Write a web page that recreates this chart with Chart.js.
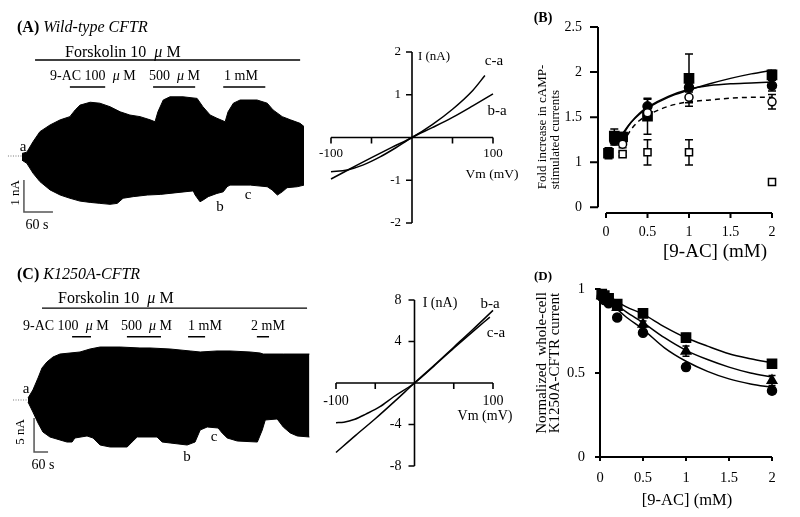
<!DOCTYPE html>
<html>
<head>
<meta charset="utf-8">
<script src="https://cdn.jsdelivr.net/npm/chart.js@4.4.1/dist/chart.umd.min.js"></script>
<style>
  html, body { margin: 0; padding: 0; background: #fff; }
  #fig { position: relative; width: 800px; height: 517px; overflow: hidden;
         font-family: "Liberation Serif", "Times New Roman", serif; color: #000; }
  #fig canvas { position: absolute; left: 0; top: 0; }
  .t { position: absolute; white-space: pre; line-height: 1; transform: translate(-50%, -50%); }
  .l { position: absolute; white-space: pre; line-height: 1; transform: translateY(-50%); }
  .rot { transform: translate(-50%, -50%) rotate(-90deg); }
</style>
</head>
<body>
<div id="fig">
  <canvas id="traceA" width="800" height="517"></canvas>
  <canvas id="ivA" width="800" height="517"></canvas>
  <canvas id="doseB" width="800" height="517"></canvas>
  <canvas id="traceC" width="800" height="517"></canvas>
  <canvas id="ivC" width="800" height="517"></canvas>
  <canvas id="doseD" width="800" height="517"></canvas>

  <!-- panel A -->
  <div class="l" style="left:17px;top:27px;font-size:16px"><b>(A)</b> <i>Wild-type CFTR</i></div>
  <div class="l" style="left:65px;top:52px;font-size:16px">Forskolin 10  <i>μ</i> M</div>
  <div class="l" style="left:50px;top:76px;font-size:14px">9-AC 100  <i>μ</i> M</div>
  <div class="l" style="left:149px;top:76px;font-size:14px">500  <i>μ</i> M</div>
  <div class="l" style="left:224px;top:76px;font-size:14px">1 mM</div>
  <div class="t" style="left:23px;top:146px;font-size:15px">a</div>
  <div class="t" style="left:220px;top:206px;font-size:15px">b</div>
  <div class="t" style="left:248px;top:194px;font-size:15px">c</div>
  <div class="t rot" style="left:14px;top:193px;font-size:13px">1 nA</div>
  <div class="t" style="left:37px;top:225px;font-size:14px">60 s</div>
  <div class="t" style="left:434px;top:55px;font-size:13px">I (nA)</div>
  <div class="t" style="left:494px;top:60px;font-size:15px">c-a</div>
  <div class="t" style="left:497px;top:110px;font-size:15px">b-a</div>
  <div class="t" style="left:492px;top:174px;font-size:13.5px">Vm (mV)</div>

  <!-- panel B -->
  <div class="t" style="left:543px;top:18px;font-size:14px;font-weight:bold">(B)</div>
  <div class="t" style="left:715px;top:250px;font-size:19px">[9-AC] (mM)</div>
  <div class="t rot" style="left:548px;top:127px;font-size:13px;line-height:13px;text-align:left">Fold increase in cAMP-<br>stimulated currents</div>

  <!-- panel C -->
  <div class="l" style="left:17px;top:274px;font-size:16px"><b>(C)</b> <i>K1250A-CFTR</i></div>
  <div class="l" style="left:58px;top:298px;font-size:16px">Forskolin 10  <i>μ</i> M</div>
  <div class="l" style="left:23px;top:326px;font-size:14px">9-AC 100  <i>μ</i> M</div>
  <div class="l" style="left:121px;top:326px;font-size:14px">500  <i>μ</i> M</div>
  <div class="l" style="left:188px;top:326px;font-size:14px">1 mM</div>
  <div class="l" style="left:251px;top:326px;font-size:14px">2 mM</div>
  <div class="t" style="left:26px;top:388px;font-size:15px">a</div>
  <div class="t" style="left:187px;top:456px;font-size:15px">b</div>
  <div class="t" style="left:214px;top:436px;font-size:15px">c</div>
  <div class="t rot" style="left:19px;top:432px;font-size:13px">5 nA</div>
  <div class="t" style="left:43px;top:465px;font-size:14px">60 s</div>
  <div class="t" style="left:440px;top:303px;font-size:14px">I (nA)</div>
  <div class="t" style="left:490px;top:303px;font-size:15px">b-a</div>
  <div class="t" style="left:496px;top:332px;font-size:15px">c-a</div>
  <div class="t" style="left:485px;top:416px;font-size:14px">Vm (mV)</div>

  <!-- panel D -->
  <div class="t" style="left:543px;top:275px;font-size:13px;font-weight:bold">(D)</div>
  <div class="t" style="left:687px;top:500px;font-size:16.5px">[9-AC] (mM)</div>
  <div class="t rot" style="left:548px;top:363px;font-size:15px;line-height:13px;text-align:center">Normalized  whole-cell<br>K1250A-CFTR current</div>
</div>

<script>
// ---- (A) wild-type CFTR whole-cell trace: envelope of the current (time s, current nA)
const wtUpperT = [0, 10, 23, 37, 58, 79, 99, 110, 120, 141, 161, 182, 203, 223, 244, 265, 275, 281, 292, 306, 333, 362, 374, 389, 403, 420, 426, 437, 451, 486, 507, 519, 538, 555, 575, 583];
const wtUpper  = [0.08, 0.12, 0.45, 0.76, 0.97, 1.13, 1.23, 1.44, 1.59, 1.68, 1.65, 1.54, 1.38, 1.28, 1.23, 1.13, 1.07, 1.38, 1.75, 1.85, 1.85, 1.80, 1.54, 1.28, 1.18, 1.07, 1.38, 1.65, 1.75, 1.75, 1.65, 1.44, 1.23, 1.13, 1.02, 0.92];
const wtLowerT = [0, 10, 23, 37, 58, 79, 99, 120, 141, 161, 182, 197, 209, 230, 259, 286, 354, 358, 368, 374, 385, 403, 416, 424, 430, 472, 507, 517, 528, 538, 548, 569, 583];
const wtLower  = [-0.13, -0.23, -0.54, -0.80, -1.06, -1.22, -1.32, -1.41, -1.45, -1.48, -1.51, -1.48, -1.32, -1.27, -1.22, -1.20, -1.09, -1.22, -1.43, -1.38, -1.27, -1.17, -1.12, -0.96, -0.91, -0.91, -0.96, -1.06, -1.22, -1.12, -0.99, -0.96, -0.91];
const wtForskolin = [27, 575];
const wtDrugStart = [99, 271, 416];
const wtDrugEnd   = [172, 358, 503];

// ---- (A) I-V relations (mV, nA)
const wtCaV = [-100, -75, -50, -25, 0, 25, 50, 75, 90];
const wtCaI = [-0.97, -0.72, -0.47, -0.23, 0, 0.3, 0.66, 1.1, 1.45];
const wtBaV = [-100, -80, -60, -40, -20, 0, 25, 50, 75, 100];
const wtBaI = [-0.8, -0.76, -0.64, -0.46, -0.24, 0, 0.23, 0.47, 0.74, 1.02];

// ---- (B) fold increase vs [9-AC] (mM)
const bSqX = [0.03, 0.1, 0.2, 0.5, 1, 2];
const bSqY = [1.1, 1.29, 1.28, 1.51, 1.93, 1.97];
const bSqE = [0.06, 0.08, 0.05, 0.2, 0.27, 0.05];
const bCiX = [0.1, 0.2, 0.5, 1, 2];
const bCiY = [1.24, 1.26, 1.62, 1.83, 1.85];
const bCiE = [0.05, 0.05, 0.08, 0.05, 0.06];
const bOcX = [0.2, 0.5, 1, 2];
const bOcY = [1.2, 1.55, 1.72, 1.67];
const bOcE = [0.04, 0.05, 0.1, 0.08];
const bOsX = [0.2, 0.5, 1, 2];
const bOsY = [1.09, 1.11, 1.11, 0.78];
const bOsE = [0.02, 0.14, 0.14, 0.01];
const bFitX = [0.2, 0.3, 0.4, 0.5, 0.75, 1, 1.25, 1.5, 1.75, 2];
const bFit1 = [1.32, 1.44, 1.53, 1.60, 1.72, 1.80, 1.87, 1.93, 1.98, 2.02];
const bFit2 = [1.30, 1.44, 1.54, 1.61, 1.73, 1.81, 1.85, 1.87, 1.88, 1.89];
const bFit3 = [1.21, 1.36, 1.46, 1.52, 1.62, 1.67, 1.69, 1.71, 1.72, 1.72];
const bYTicks = [0.5, 1, 1.5, 2, 2.5];
const bYLabels = ['0', '1', '1.5', '2', '2.5'];
const doseTicks = [0, 0.5, 1, 1.5, 2];
const doseLabels = ['0', '0.5', '1', '1.5', '2'];

// ---- (C) K1250A-CFTR trace envelope (time s, current nA)
const kaUpperT = [0, 21, 43, 60, 81, 107, 137, 180, 223, 266, 309, 395, 480, 523, 609, 695, 738, 810, 866, 952, 995, 1008, 1094, 1206];
const kaUpper  = [0.29, 1.47, 3.24, 4.71, 5.59, 6.32, 6.76, 6.91, 7.06, 7.5, 7.79, 7.79, 7.65, 7.65, 7.5, 7.21, 7.06, 7.21, 7.21, 7.06, 6.91, 6.76, 6.76, 6.76];
const kaLowerT = [0, 21, 43, 64, 94, 137, 167, 189, 201, 253, 279, 309, 352, 425, 446, 468, 553, 575, 609, 682, 716, 738, 768, 815, 832, 854, 897, 983, 1004, 1017, 1068, 1094, 1124, 1154, 1206];
const kaLower  = [-0.29, -1.76, -3.38, -4.71, -5.44, -5.88, -6.18, -6.18, -5.59, -5.29, -5.59, -6.62, -6.91, -6.91, -6.18, -5.44, -5.44, -6.18, -6.32, -6.62, -6.18, -4.41, -3.97, -4.12, -4.85, -5.59, -6.03, -6.18, -4.41, -2.94, -2.79, -3.97, -4.85, -5.29, -5.44];
const kaForskolin = [60, 1196];
const kaDrugStart = [189, 424, 686, 981];
const kaDrugEnd   = [270, 570, 759, 1033];

// ---- (C) I-V relations
const kaBaV = [-100, -75, -50, -25, 0, 25, 50, 75, 100];
const kaBaI = [-6.7, -5.05, -3.45, -1.75, 0, 1.7, 3.45, 5.2, 7.0];
const kaCaV = [-100, -90, -76, -62, -44, -27, 0, 25, 50, 75, 96];
const kaCaI = [-3.82, -3.78, -3.5, -3.0, -2.28, -1.35, 0, 1.65, 3.35, 5.0, 6.35];

// ---- (D) normalized K1250A current vs [9-AC]
const dX = [0.02, 0.05, 0.1, 0.2, 0.5, 1, 2];
const dSq = [0.97, 0.96, 0.945, 0.91, 0.855, 0.71, 0.555];
const dSqE = [0.01, 0.01, 0.015, 0.015, 0.02, 0.025, 0.015];
const dTr = [0.96, 0.95, 0.93, 0.89, 0.79, 0.63, 0.455];
const dTrE = [0.01, 0.01, 0.015, 0.015, 0.02, 0.03, 0.03];
const dCi = [0.955, 0.935, 0.915, 0.83, 0.74, 0.535, 0.395];
const dCiE = [0.01, 0.01, 0.015, 0.015, 0.015, 0.02, 0.02];
const dFitX = [0, 0.1, 0.2, 0.3, 0.5, 0.75, 1, 1.25, 1.5, 1.75, 2];
const dFit1 = [1.0, 0.96, 0.925, 0.895, 0.85, 0.775, 0.71, 0.66, 0.615, 0.585, 0.56];
const dFit2 = [1.0, 0.95, 0.905, 0.865, 0.80, 0.71, 0.635, 0.58, 0.535, 0.50, 0.475];
const dFit3 = [1.0, 0.935, 0.88, 0.835, 0.76, 0.65, 0.57, 0.51, 0.465, 0.435, 0.415];

const W = 800, H = 517;
const pts = (xs, ys) => xs.map((x, i) => ({ x, y: ys[i] }));

// drug application bars -> one line dataset with gaps
function bars(starts, ends, level) {
    const out = [];
    starts.forEach((s, i) => { out.push({ x: s, y: level }, { x: ends[i], y: level }, { x: ends[i], y: null }); });
    return out;
}

// axes drawn through the chart's own scales, crossing where the figure has them
const drawAxes = {
    id: 'drawAxes',
    afterDatasetsDraw(chart, args, opts) {
        if (!opts.axes) return;
        const { ctx, scales: { x, y } } = chart;
        ctx.save();
        ctx.strokeStyle = '#000';
        ctx.fillStyle = '#000';
        ctx.lineWidth = opts.lineWidth || 1.8;
        ctx.font = opts.font;
        ctx.textBaseline = 'middle';
        opts.axes.forEach(ax => {
            const horiz = ax.axis === 'x';
            const sc = horiz ? x : y;
            const at = (horiz ? y : x).getPixelForValue(ax.at);
            const p0 = sc.getPixelForValue(ax.from), p1 = sc.getPixelForValue(ax.to);
            ctx.beginPath();
            if (horiz) { ctx.moveTo(p0, at); ctx.lineTo(p1, at); } else { ctx.moveTo(at, p0); ctx.lineTo(at, p1); }
            ax.ticks.forEach(v => {
                const p = sc.getPixelForValue(v);
                if (horiz) { ctx.moveTo(p, at); ctx.lineTo(p, at + ax.tickLen); }
                else { ctx.moveTo(at, p); ctx.lineTo(at - ax.tickLen, p); }
            });
            ctx.stroke();
            ctx.textAlign = horiz ? 'center' : 'right';
            ax.ticks.forEach((v, i) => {
                const label = ax.labels[i];
                if (!label) return;
                const p = sc.getPixelForValue(v);
                if (horiz) ctx.fillText(label, p, at + ax.labelGap);
                else ctx.fillText(label, at - ax.labelGap, p);
            });
        });
        ctx.restore();
    }
};

// vertical error bars for datasets that carry an `errors` array
const errorBars = {
    id: 'errorBars',
    beforeDatasetsDraw(chart) {
        const ctx = chart.ctx, ys = chart.scales.y;
        chart.data.datasets.forEach((ds, i) => {
            if (!ds.errors) return;
            const meta = chart.getDatasetMeta(i);
            const cap = ds.capWidth || 4;
            ctx.save();
            ctx.strokeStyle = '#000';
            ctx.lineWidth = 1.5;
            ctx.beginPath();
            meta.data.forEach((pt, j) => {
                const e = ds.errors[j];
                if (!e) return;
                const top = ys.getPixelForValue(ds.data[j].y + e);
                const bot = ys.getPixelForValue(ds.data[j].y - e);
                ctx.moveTo(pt.x, top); ctx.lineTo(pt.x, bot);
                ctx.moveTo(pt.x - cap, top); ctx.lineTo(pt.x + cap, top);
                ctx.moveTo(pt.x - cap, bot); ctx.lineTo(pt.x + cap, bot);
            });
            ctx.stroke();
            ctx.restore();
        });
    }
};

function makeChart(id, area, xRange, yRange, datasets, axes) {
    return new Chart(document.getElementById(id), {
        type: 'line',
        data: { datasets },
        options: {
            responsive: false,
            animation: false,
            devicePixelRatio: 1,
            events: [],
            layout: { padding: { left: area[0], top: area[1], right: W - area[2], bottom: H - area[3] } },
            scales: {
                x: { type: 'linear', min: xRange[0], max: xRange[1], display: false },
                y: { type: 'linear', min: yRange[0], max: yRange[1], display: false }
            },
            elements: { point: { radius: 0 }, line: { borderWidth: 1.5, borderColor: '#000' } },
            plugins: { legend: { display: false }, tooltip: { enabled: false }, drawAxes: axes || {} }
        },
        plugins: [drawAxes, errorBars]
    });
}

const line = (data, extra) => Object.assign({ data, borderColor: '#000', borderWidth: 1.5, pointRadius: 0, fill: false, clip: false }, extra || {});
const smooth = { cubicInterpolationMode: 'monotone' };
const marker = (data, style, r, filled, errors, cap) => ({
    data, showLine: false, pointStyle: style, pointRadius: r, borderWidth: 1.5,
    pointBorderColor: '#000', pointBackgroundColor: filled ? '#000' : '#fff',
    errors, capWidth: cap, clip: false
});

// ---------- trace helpers
function traceSets(upT, up, loT, lo, forsk, fLevel, dS, dE, dLevel, baseFrom, bar) {
    return [
        line(pts(upT, up), { fill: 'origin', backgroundColor: '#000', borderWidth: 1 }),
        line(pts(loT, lo), { fill: 'origin', backgroundColor: '#000', borderWidth: 1 }),
        line(pts(forsk, [fLevel, fLevel]), { borderWidth: 1.3 }),
        line(bars(dS, dE, dLevel), { borderWidth: 1.5 }),
        line([{ x: baseFrom, y: 0 }, { x: 0, y: 0 }], { borderColor: '#777', borderWidth: 1, borderDash: [1, 1.5] }),
        line([{ x: bar.t, y: bar.top }, { x: bar.t, y: bar.top - bar.nA }, { x: bar.t + 60, y: bar.top - bar.nA }],
             { borderColor: '#555', borderWidth: 1.5 })
    ];
}

// (A) trace
makeChart('traceA', [7, 56, 304, 216], [-31, 583], [-1.875, 3.125],
    traceSets(wtUpperT, wtUpper, wtLowerT, wtLower, wtForskolin, 3.0, wtDrugStart, wtDrugEnd, 2.16, -29,
              { t: 4, top: -0.75, nA: 1 }));

// (A) I-V
makeChart('ivA', [331, 52, 493, 223], [-100, 100], [-2, 2], [
    line(pts(wtCaV, wtCaI), smooth),
    line(pts(wtBaV, wtBaI), smooth)
], {
    font: '13px "Liberation Serif", serif', lineWidth: 1.6,
    axes: [
        { axis: 'x', at: 0, from: -100, to: 100, ticks: [-100, -50, 50, 100], labels: ['-100', '', '', '100'], tickLen: 6, labelGap: 16 },
        { axis: 'y', at: 0, from: -2, to: 2, ticks: [-2, -1, 1, 2], labels: ['-2', '-1', '1', '2'], tickLen: 6, labelGap: 11 }
    ]
});

// (B) dose response
makeChart('doseB', [598, 27, 772, 213], [-0.0964, 2], [0.437, 2.5], [
    marker(pts(bOcX, bOcY), 'circle', 4, false, bOcE, 4),
    marker(pts(bOsX, bOsY), 'rect', 5, false, bOsE, 4),
    marker(pts(bCiX, bCiY), 'circle', 4.5, true, bCiE, 4),
    marker(pts(bSqX, bSqY), 'rect', 6.5, true, bSqE, 4),
    line(pts(bFitX, bFit1), smooth),
    line(pts(bFitX, bFit2), smooth),
    line(pts(bFitX, bFit3), Object.assign({ borderDash: [5, 4] }, smooth))
], {
    font: '14px "Liberation Serif", serif', lineWidth: 2,
    axes: [
        { axis: 'x', at: 0.437, from: 0, to: 2, ticks: doseTicks, labels: doseLabels, tickLen: 5, labelGap: 19 },
        { axis: 'y', at: -0.0964, from: 0.5, to: 2.5, ticks: bYTicks, labels: bYLabels, tickLen: 8, labelGap: 16 }
    ]
});

// (C) trace
makeChart('traceC', [10, 300, 310, 460], [-77.1, 1208.6], [-8.824, 14.706],
    traceSets(kaUpperT, kaUpper, kaLowerT, kaLower, kaForskolin, 13.5, kaDrugStart, kaDrugEnd, 9.31, -64,
              { t: 26, top: -2.65, nA: 5 }));

// (C) I-V
makeChart('ivC', [336, 300, 493, 466], [-100, 100], [-8, 8], [
    line(pts(kaBaV, kaBaI), smooth),
    line(pts(kaCaV, kaCaI), smooth)
], {
    font: '14px "Liberation Serif", serif', lineWidth: 1.6,
    axes: [
        { axis: 'x', at: 0, from: -100, to: 100, ticks: [-100, -50, 50, 100], labels: ['-100', '', '', '100'], tickLen: 6, labelGap: 18 },
        { axis: 'y', at: 0, from: -8, to: 8, ticks: [-8, -4, 4, 8], labels: ['-8', '-4', '4', '8'], tickLen: 6, labelGap: 13 }
    ]
});

// (D) inhibition
makeChart('doseD', [600, 289, 772, 457], [0, 2], [0, 1], [
    marker(pts(dX, dSq), 'rect', 6.5, true, dSqE, 3.5),
    marker(pts(dX, dTr), 'triangle', 5.5, true, dTrE, 3.5),
    marker(pts(dX, dCi), 'circle', 4.5, true, dCiE, 3.5),
    line(pts(dFitX, dFit1), smooth),
    line(pts(dFitX, dFit2), smooth),
    line(pts(dFitX, dFit3), smooth)
], {
    font: '14.5px "Liberation Serif", serif', lineWidth: 2,
    axes: [
        { axis: 'x', at: 0, from: 0, to: 2, ticks: doseTicks, labels: doseLabels, tickLen: 4, labelGap: 21 },
        { axis: 'y', at: 0, from: 0, to: 1, ticks: [0, 0.5, 1], labels: ['0', '0.5', '1'], tickLen: 5, labelGap: 15 }
    ]
});
</script>
</body>
</html>
